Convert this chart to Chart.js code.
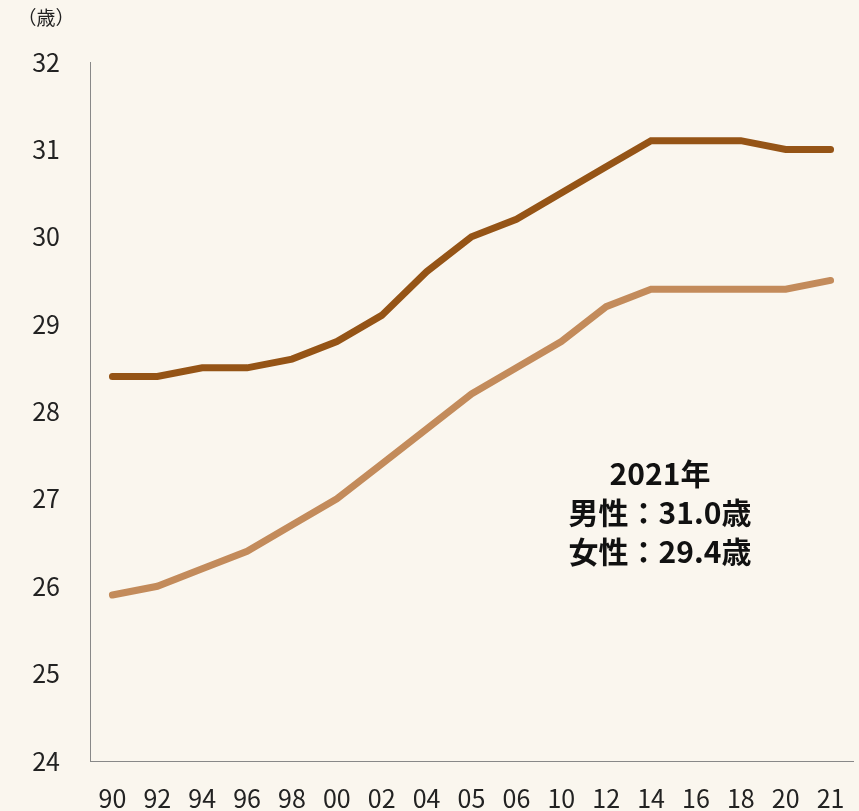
<!DOCTYPE html>
<html lang="ja">
<head>
<meta charset="utf-8">
<script src="https://cdn.jsdelivr.net/npm/chart.js@4/dist/chart.umd.min.js"></script>
<style>
  html, body { margin: 0; padding: 0; background: #faf6ee; }
  #wrap { position: relative; width: 859px; height: 811px; }
</style>
</head>
<body>
<div id="wrap"><canvas id="chart" width="859" height="811"></canvas></div>
<script>
const years = ["90", "92", "94", "96", "98", "00", "02", "04", "05", "06", "10", "12", "14", "16", "18", "20", "21"];
const male = [28.4, 28.4, 28.5, 28.5, 28.6, 28.8, 29.1, 29.6, 30.0, 30.2, 30.5, 30.8, 31.1, 31.1, 31.1, 31.0, 31.0];
const female = [25.9, 26.0, 26.2, 26.4, 26.7, 27.0, 27.4, 27.8, 28.2, 28.5, 28.8, 29.2, 29.4, 29.4, 29.4, 29.4, 29.5];
const yTicks = [24, 25, 26, 27, 28, 29, 30, 31, 32];
const unitLabel = "（歳）";
const noteLines = ["2021年", "男性：31.0歳", "女性：29.4歳"];

const fontFamily = '"Noto Sans CJK JP", "Noto Sans", sans-serif';

// unit label and the 2021 note
const textPlugin = {
  id: "textPlugin",
  afterDraw(chart) {
    const ctx = chart.ctx;
    ctx.save();
    ctx.fillStyle = "#222";
    ctx.textAlign = "center";
    ctx.textBaseline = "middle";
    ctx.font = `19px ${fontFamily}`;
    ctx.fillText(unitLabel, 46, 18);

    ctx.font = `bold 30px ${fontFamily}`;
    ctx.fillStyle = "#111";
    noteLines.forEach((t, i) => {
      ctx.fillText(t, 660, 474 + i * 39);
    });
    ctx.restore();
  },
};

new Chart(document.getElementById("chart"), {
  type: "line",
  data: {
    labels: years,
    datasets: [
      {
        label: "男性",
        data: male,
        borderColor: "#955416",
        borderWidth: 7,
        pointRadius: 0,
        borderCapStyle: "round",
        tension: 0,
      },
      {
        label: "女性",
        data: female,
        borderColor: "#c38b5b",
        borderWidth: 7,
        pointRadius: 0,
        borderCapStyle: "round",
        tension: 0,
      },
    ],
  },
  options: {
    responsive: false,
    animation: false,
    layout: { padding: { top: 62, right: 6, bottom: 0, left: 0 } },
    plugins: {
      legend: { display: false },
      tooltip: { enabled: false },
    },
    scales: {
      x: {
        offset: true,
        afterFit: (axis) => {
          axis.height = 50;
          axis.paddingLeft = 0;
          axis.paddingRight = 0;
        },
        grid: { display: false, drawTicks: false },
        border: { color: "#888", width: 1 },
        ticks: {
          color: "#222",
          padding: 22,
          maxRotation: 0,
          autoSkip: false,
          font: { family: fontFamily, size: 25 },
        },
      },
      y: {
        min: 24,
        max: 32,
        afterBuildTicks: (axis) => {
          axis.ticks = yTicks.map((v) => ({ value: v }));
        },
        afterFit: (axis) => {
          axis.width = 90;
        },
        grid: { display: false, drawTicks: false },
        border: { color: "#888", width: 1 },
        ticks: {
          color: "#222",
          padding: 30,
          font: { family: fontFamily, size: 25 },
        },
      },
    },
  },
  plugins: [textPlugin],
});
</script>
</body>
</html>
